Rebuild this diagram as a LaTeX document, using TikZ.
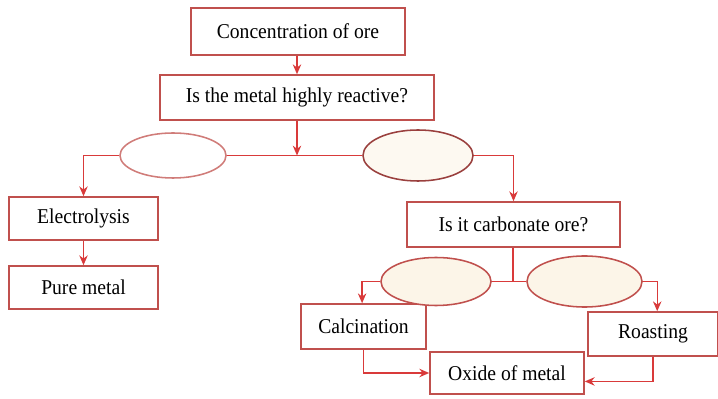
\documentclass[tikz,border=0pt]{standalone}
\usepackage{fontspec}
\setmainfont{Liberation Serif}[FakeStretch=0.93]
\usetikzlibrary{shapes.geometric,arrows.meta}
\definecolor{boxred}{HTML}{C0504D}
\definecolor{linered}{HTML}{D93A3A}
\definecolor{cream}{HTML}{FCF5E8}
\begin{document}
\begin{tikzpicture}[x=0.025cm, y=-0.025cm,
    every node/.style={font=\fontsize{15}{17}\selectfont},
    box/.style={draw=boxred, line width=1.1pt, fill=white, inner sep=0pt, align=center},
    oval/.style={ellipse, draw=boxred, line width=1.1pt, inner sep=0pt},
    arr/.style={draw=linered, line width=1pt, -{Stealth[length=7pt,width=6pt]}},
    ln/.style={draw=linered, line width=1pt}]
  \useasboundingbox (0,0) rectangle (718,399);
  % Boxes
  \node[box, minimum width=5.35cm, minimum height=1.175cm] (conc) at (298,31.5) {Concentration of ore};
  \node[box, minimum width=6.85cm, minimum height=1.125cm] (react) at (297,97.5) {Is the metal highly reactive?};
  \node[box, minimum width=3.725cm, minimum height=1.075cm] (elec) at (83.5,218.5) {Electrolysis};
  \node[box, minimum width=3.725cm, minimum height=1.075cm] (pure) at (83.5,287.5) {Pure metal};
  \node[box, minimum width=5.325cm, minimum height=1.125cm] (carb) at (513.5,224.5) {Is it carbonate ore?};
  \node[box, minimum width=3.125cm, minimum height=1.125cm] (calc) at (363.5,326.5) {Calcination};
  \node[box, minimum width=3.25cm, minimum height=1.1cm] (roast) at (653,334) {Roasting};
  \node[box, minimum width=3.85cm, minimum height=1.05cm] (oxide) at (507,373) {Oxide of metal};
  % Ovals
  \node[oval, draw=boxred!75, fill=white, minimum width=2.65cm, minimum height=1.125cm] (yes1) at (173,155.5) {};
  \node[oval, draw=boxred!80!black, fill=cream!60, minimum width=2.75cm, minimum height=1.275cm] (no1) at (418,155.5) {};
  \node[oval, fill=cream, minimum width=2.75cm, minimum height=1.2cm] (yes2) at (436,281.5) {};
  \node[oval, fill=cream, minimum width=2.875cm, minimum height=1.275cm] (no2) at (584.5,281.5) {};
  \coordinate (j1) at (297,155.5);
  \coordinate (j2) at (513,281.5);
  % Top chain
  \draw[arr] (conc.south -| react.north) -- (react.north);
  \draw[arr] (react.south) -- (j1);
  \draw[ln] (yes1.east) -- (no1.west);
  \draw[arr] (yes1.west) -| (elec.north);
  \draw[arr] (no1.east) -| (carb.north);
  \draw[arr] (elec.south) -- (pure.north);
  % Carbonate branch
  \draw[ln] (carb.south -| j2) -- (j2);
  \draw[ln] (yes2.east) -- (no2.west);
  \draw[arr] (yes2.west) -| ([xshift=-1pt]calc.north);
  \draw[arr] (no2.east) -| ([xshift=3pt]roast.north);
  \draw[arr] (calc.south) |- (oxide.west);
  \draw[arr] (roast.south) |- ([yshift=-6pt]oxide.east);
\end{tikzpicture}
\end{document}
